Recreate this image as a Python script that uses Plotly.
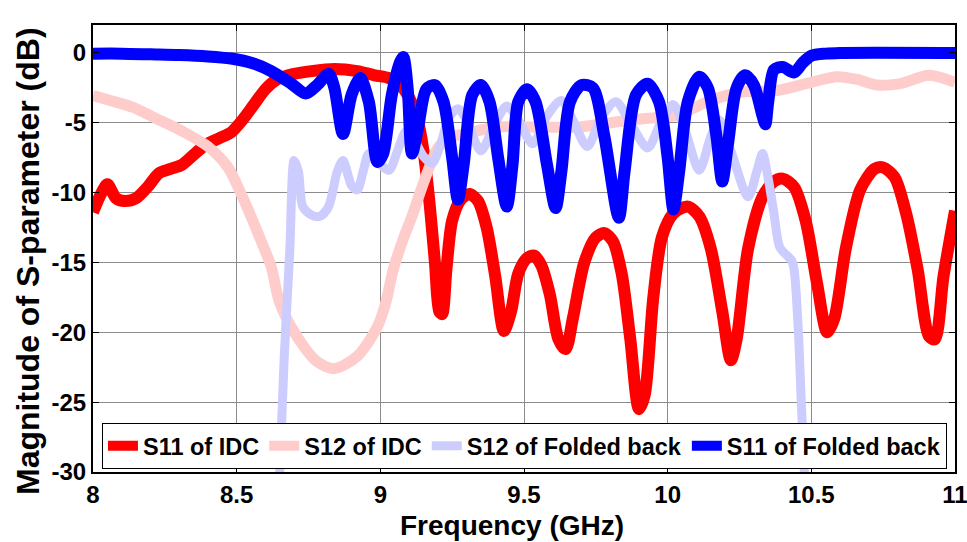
import plotly.graph_objects as go

# ---- data (frequency in GHz, magnitude in dB) ----
s11_idc_f = [8.00, 8.03, 8.05, 8.08, 8.11, 8.15, 8.19, 8.23, 8.27, 8.31, 8.35, 8.39, 8.44, 8.48,
             8.52, 8.56, 8.60, 8.64, 8.70, 8.76, 8.84, 8.92, 8.98, 9.03, 9.07, 9.10, 9.13, 9.15,
             9.17, 9.19, 9.205, 9.215, 9.23, 9.25, 9.28, 9.31, 9.34, 9.37, 9.40, 9.43, 9.455,
             9.48, 9.51, 9.535, 9.56, 9.59, 9.62, 9.645, 9.67, 9.71, 9.75, 9.78, 9.81, 9.84,
             9.87, 9.90, 9.92, 9.95, 9.98, 10.02, 10.07, 10.11, 10.15, 10.19, 10.22, 10.24,
             10.28, 10.33, 10.37, 10.40, 10.44, 10.48, 10.52, 10.555, 10.58, 10.62, 10.67,
             10.72, 10.75, 10.79, 10.83, 10.87, 10.91, 10.93, 10.96, 11.00]
s11_idc_db = [-11.4, -10.0, -9.4, -10.4, -10.6, -10.4, -9.6, -8.6, -8.3, -8.0, -7.3, -6.6, -6.1, -5.7,
              -4.8, -3.7, -2.6, -1.9, -1.5, -1.3, -1.15, -1.3, -1.6, -1.8, -2.3, -3.2, -4.8, -7.0,
              -10.5, -15.0, -18.5, -18.7, -15.5, -12.0, -10.5, -10.1, -10.6, -12.5, -16.0, -19.9, -18.5,
              -15.8, -14.7, -14.5, -15.2, -17.3, -20.5, -21.2, -19.0, -15.0, -13.2, -12.9, -13.5, -15.8,
              -20.5, -25.5, -24.5, -17.5, -13.2, -11.5, -11.0, -11.7, -14.0, -18.5, -22.0, -20.5,
              -14.0, -10.3, -9.2, -9.0, -9.6, -12.0, -16.5, -20.0, -19.0, -14.0, -9.8,
              -8.3, -8.2, -8.9, -11.5, -15.5, -20.3, -20.5, -16.0, -11.3]

s12_idc_f = [8.00, 8.06, 8.14, 8.22, 8.31, 8.40, 8.47, 8.52, 8.58, 8.62, 8.65, 8.71, 8.78, 8.84,
             8.92, 8.99, 9.02, 9.045, 9.08, 9.11, 9.14, 9.17, 9.20, 9.24, 9.29, 9.41, 9.52, 9.69,
             9.87, 9.98, 10.03, 10.15, 10.26, 10.38, 10.50, 10.59, 10.66, 10.73, 10.81, 10.91, 11.00]
s12_idc_db = [-3.05, -3.4, -3.9, -4.7, -5.6, -6.7, -8.2, -10.3, -13.2, -15.3, -17.9, -20.3, -22.1, -22.6,
              -21.7, -19.6, -17.8, -15.5, -13.3, -11.7, -9.9, -8.2, -6.8, -6.1, -5.8, -5.3, -5.3, -5.3,
              -4.8, -4.6, -4.5, -3.4, -2.8, -2.7, -2.1, -1.7, -1.9, -2.3, -2.2, -1.6, -2.1]

s12_fold_f = [8.648, 8.665, 8.685, 8.70, 8.715, 8.73, 8.76, 8.79, 8.82, 8.85, 8.87, 8.90, 8.92, 8.94,
              8.96, 8.99, 9.03, 9.06, 9.09, 9.12, 9.15, 9.18, 9.21, 9.24, 9.27, 9.30, 9.35, 9.40,
              9.44, 9.48, 9.53, 9.58, 9.63, 9.67, 9.72, 9.77, 9.82, 9.87, 9.93, 9.98, 10.02, 10.06,
              10.11, 10.15, 10.18, 10.22, 10.28, 10.31, 10.33, 10.35, 10.37, 10.39, 10.42, 10.43,
              10.44, 10.455, 10.465, 10.478]
s12_fold_db = [-31.0, -22.0, -14.1, -7.7, -8.5, -11.0, -11.6, -11.7, -11.0, -8.5, -7.7, -9.5, -9.8, -8.5,
               -7.2, -7.8, -8.4, -7.0, -5.6, -6.3, -7.4, -7.9, -6.5, -4.6, -4.0, -4.8, -7.0, -5.0,
               -3.8, -4.8, -6.5, -4.5, -3.4, -4.8, -6.7, -4.6, -3.5, -5.0, -6.8, -4.8, -3.7, -5.5,
               -8.4, -6.0, -4.8, -7.0, -10.3, -8.5, -7.2, -9.0, -11.5, -13.9, -14.6, -14.8,
               -15.5, -20.0, -25.0, -31.0]

s11_fold_f = [8.00, 8.10, 8.20, 8.30, 8.40, 8.48, 8.55, 8.62, 8.69, 8.74, 8.78, 8.82, 8.84, 8.87,
              8.90, 8.93, 8.96, 8.99, 9.01, 9.04, 9.07, 9.08, 9.095, 9.11, 9.13, 9.16, 9.19, 9.22,
              9.25, 9.27, 9.29, 9.32, 9.35, 9.38, 9.41, 9.44, 9.46, 9.48, 9.51, 9.54, 9.58, 9.61,
              9.63, 9.66, 9.70, 9.74, 9.78, 9.83, 9.85, 9.89, 9.93, 9.97, 10.00, 10.02, 10.04,
              10.07, 10.11, 10.14, 10.17, 10.19, 10.21, 10.24, 10.27, 10.30, 10.33, 10.34, 10.35,
              10.37, 10.40, 10.44, 10.47, 10.50, 10.55, 10.60, 11.00]
s11_fold_db = [-0.05, -0.05, -0.1, -0.15, -0.25, -0.4, -0.7, -1.3, -2.2, -2.9, -2.3, -1.5, -2.5, -5.8,
               -3.0, -1.8, -3.5, -7.8, -7.2, -3.0, -0.6, -0.3, -2.5, -7.2, -5.5, -2.6, -2.3, -3.5,
               -7.5, -10.5, -8.0, -3.0, -2.3, -3.5, -7.5, -11.0, -8.0, -3.5, -2.6, -3.5, -8.0, -11.1,
               -8.5, -3.5, -2.3, -2.5, -6.0, -11.8, -8.5, -3.0, -2.2, -3.5, -7.5, -11.2, -8.5,
               -3.5, -1.7, -2.5, -6.0, -9.2, -6.5, -2.5, -1.6, -2.3, -4.5, -5.1, -3.5,
               -1.2, -1.0, -1.4, -0.7, -0.2, -0.05, 0.0, 0.0]

names = ["S11 of IDC", "S12 of IDC", "S12 of Folded back", "S11 of Folded back"]
x_ticks = [8, 8.5, 9, 9.5, 10, 10.5, 11]
y_ticks = [0, -5, -10, -15, -20, -25, -30]
x_title = "Frequency (GHz)"
y_title = "Magnitude of S-parameter (dB)"

FONT = "Liberation Sans, Arial, sans-serif"

fig = go.Figure()
series = [
    (s11_idc_f, s11_idc_db, "#FF0000", 12),
    (s12_idc_f, s12_idc_db, "#FFCCCC", 11),
    (s12_fold_f, s12_fold_db, "#CCCCFF", 9),
    (s11_fold_f, s11_fold_db, "#0000FF", 12),
]
for (fx, fy, col, w), nm in zip(series, names):
    fig.add_trace(go.Scatter(x=fx, y=fy, mode="lines", name=nm,
                             line=dict(color=col, width=w, shape="spline", smoothing=0.8)))

fig.update_layout(
    width=967, height=542,
    margin=dict(l=93, r=12, t=25, b=70, autoexpand=False),
    paper_bgcolor="white", plot_bgcolor="white",
    font=dict(family=FONT, size=24, color="black", weight="bold"),
    legend=dict(orientation="h", x=0.0104, xanchor="left", y=0.007, yanchor="bottom",
                bgcolor="white", bordercolor="black", borderwidth=1,
                font=dict(family=FONT, size=23.5, color="black", weight="bold"),
                itemwidth=30, tracegroupgap=0),
    showlegend=True,
    annotations=[
        dict(text=x_title, xref="paper", yref="paper", x=0.486, y=-0.1186,
             xanchor="center", yanchor="middle", showarrow=False,
             font=dict(family=FONT, size=28, weight="bold", color="black")),
        dict(text=y_title, xref="paper", yref="paper", x=-0.0754, y=0.472,
             xanchor="center", yanchor="middle", showarrow=False, textangle=-90,
             font=dict(family=FONT, size=32, weight="bold", color="black")),
    ],
)
fig.update_xaxes(range=[8, 11], tickvals=x_ticks, ticktext=[str(v) for v in x_ticks],
                 automargin=False, ticklabeloverflow="allow",
                 showline=True, linecolor="black", linewidth=2, mirror="allticks",
                 ticks="inside", ticklen=6, tickcolor="black",
                 showgrid=True, gridcolor="#8c8c8c", gridwidth=1, zeroline=False,
                 tickfont=dict(family=FONT, size=24, weight="bold"))
fig.update_yaxes(range=[-30, 2], tickvals=y_ticks, ticktext=[str(v) for v in y_ticks],
                 automargin=False, ticklabeloverflow="allow",
                 showline=True, linecolor="black", linewidth=2, mirror="allticks",
                 ticks="inside", ticklen=6, tickcolor="black",
                 showgrid=True, gridcolor="#8c8c8c", gridwidth=1, zeroline=False,
                 tickfont=dict(family=FONT, size=24, weight="bold"))

fig.write_html("out.html", config={"displayModeBar": False},
               post_script="document.body.style.margin='0px';")
